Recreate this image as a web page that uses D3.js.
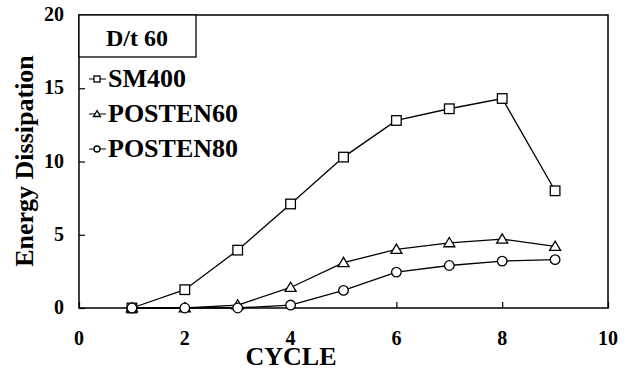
<!DOCTYPE html>
<html>
<head>
<meta charset="utf-8">
<script src="https://cdn.jsdelivr.net/npm/d3@7"></script>
<style>
  body { margin: 0; background: #fff; }
</style>
</head>
<body>
<div id="chart"></div>
<script>
// data
const cycles = [1, 2, 3, 4, 5, 6, 7, 8, 9];
const sm400 = [0, 1.25, 3.95, 7.1, 10.3, 12.8, 13.6, 14.3, 8.0];
const posten60 = [0, 0, 0.2, 1.4, 3.1, 4.0, 4.45, 4.7, 4.2];
const posten80 = [0, 0, 0, 0.2, 1.2, 2.45, 2.9, 3.2, 3.3];
const xTicks = [0, 2, 4, 6, 8, 10];
const yTicks = [0, 5, 10, 15, 20];
const seriesNames = ["SM400", "POSTEN60", "POSTEN80"];
const markers = ["square", "triangle", "circle"];

const width = 633, height = 370;
const margin = {left: 79, right: 25, top: 15, bottom: 62};
const font = "Liberation Serif";

const svg = d3.select("#chart").append("svg")
    .attr("width", width)
    .attr("height", height);

const x = d3.scaleLinear().domain([0, 10]).range([margin.left, width - margin.right]);
const y = d3.scaleLinear().domain([0, 20]).range([height - margin.bottom, margin.top]);

function label(sel) {
    return sel.attr("font-family", font).attr("font-weight", "bold").attr("fill", "#000");
}

// frame
svg.append("rect")
    .attr("x", x(0)).attr("y", y(20))
    .attr("width", x(10) - x(0)).attr("height", y(0) - y(20))
    .attr("fill", "none").attr("stroke", "#000").attr("stroke-width", 1.5);

// inside ticks
svg.append("g")
    .attr("transform", "translate(0," + y(0) + ")")
    .call(d3.axisBottom(x).tickValues(xTicks).tickSizeInner(-6).tickSizeOuter(0).tickFormat(""))
    .call(g => g.select(".domain").remove())
    .selectAll("line").attr("stroke-width", 1.2);

svg.append("g")
    .attr("transform", "translate(" + x(0) + ",0)")
    .call(d3.axisLeft(y).tickValues(yTicks).tickSizeInner(-6).tickSizeOuter(0).tickFormat(""))
    .call(g => g.select(".domain").remove())
    .selectAll("line").attr("stroke-width", 1.2);

// tick labels
svg.selectAll(".xl").data(xTicks).enter().append("text")
    .call(label)
    .attr("x", d => x(d)).attr("y", y(0) + 37)
    .attr("text-anchor", "middle").attr("font-size", 20)
    .text(d => d);

svg.selectAll(".yl").data(yTicks).enter().append("text")
    .call(label)
    .attr("x", 64).attr("y", d => y(d) + 6)
    .attr("text-anchor", "end").attr("font-size", 20)
    .text(d => d);

// axis titles
svg.append("text").call(label)
    .attr("x", 291).attr("y", 365)
    .attr("text-anchor", "middle").attr("font-size", 26)
    .text("CYCLE");

svg.append("text").call(label)
    .attr("transform", "translate(33,161) rotate(-90)")
    .attr("text-anchor", "middle").attr("font-size", 26)
    .text("Energy Dissipation");

function drawMarker(g, type, cx, cy, s) {
    if (type === "square") {
        g.append("rect").attr("x", cx - s).attr("y", cy - s)
            .attr("width", 2 * s).attr("height", 2 * s)
            .attr("fill", "#fff").attr("stroke", "#000").attr("stroke-width", 1.3);
    } else if (type === "triangle") {
        let h = s * 1.1;
        g.append("path")
            .attr("d", "M" + cx + "," + (cy - h) + "L" + (cx + s * 1.15) + "," + (cy + h * 0.75) + "L" + (cx - s * 1.15) + "," + (cy + h * 0.75) + "Z")
            .attr("fill", "#fff").attr("stroke", "#000").attr("stroke-width", 1.3);
    } else {
        g.append("circle").attr("cx", cx).attr("cy", cy).attr("r", s)
            .attr("fill", "#fff").attr("stroke", "#000").attr("stroke-width", 1.3);
    }
}

const allSeries = [sm400, posten60, posten80];
const line = d3.line().x((d, i) => x(cycles[i])).y(d => y(d));

allSeries.forEach(vals => {
    svg.append("path").datum(vals)
        .attr("d", line)
        .attr("fill", "none").attr("stroke", "#000").attr("stroke-width", 1.3);
});
allSeries.forEach((vals, k) => {
    let g = svg.append("g");
    vals.forEach((v, i) => drawMarker(g, markers[k], x(cycles[i]), y(v), 4.8));
});

// legend title box
svg.append("rect")
    .attr("x", x(0)).attr("y", y(20))
    .attr("width", 117).attr("height", 42)
    .attr("fill", "#fff").attr("stroke", "#000").attr("stroke-width", 1.3);
svg.append("text").call(label)
    .attr("x", x(0) + 58).attr("y", 46)
    .attr("text-anchor", "middle").attr("font-size", 24)
    .text("D/t 60");

// legend entries
seriesNames.forEach((name, k) => {
    let ly = 79 + k * 35;
    let g = svg.append("g");
    g.append("line").attr("x1", 89).attr("x2", 106).attr("y1", ly).attr("y2", ly)
        .attr("stroke", "#000").attr("stroke-width", 1);
    drawMarker(g, markers[k], 97, ly, 3);
    g.append("text").call(label)
        .attr("x", 108).attr("y", ly + 8)
        .attr("font-size", 26).text(name);
});
</script>
</body>
</html>
